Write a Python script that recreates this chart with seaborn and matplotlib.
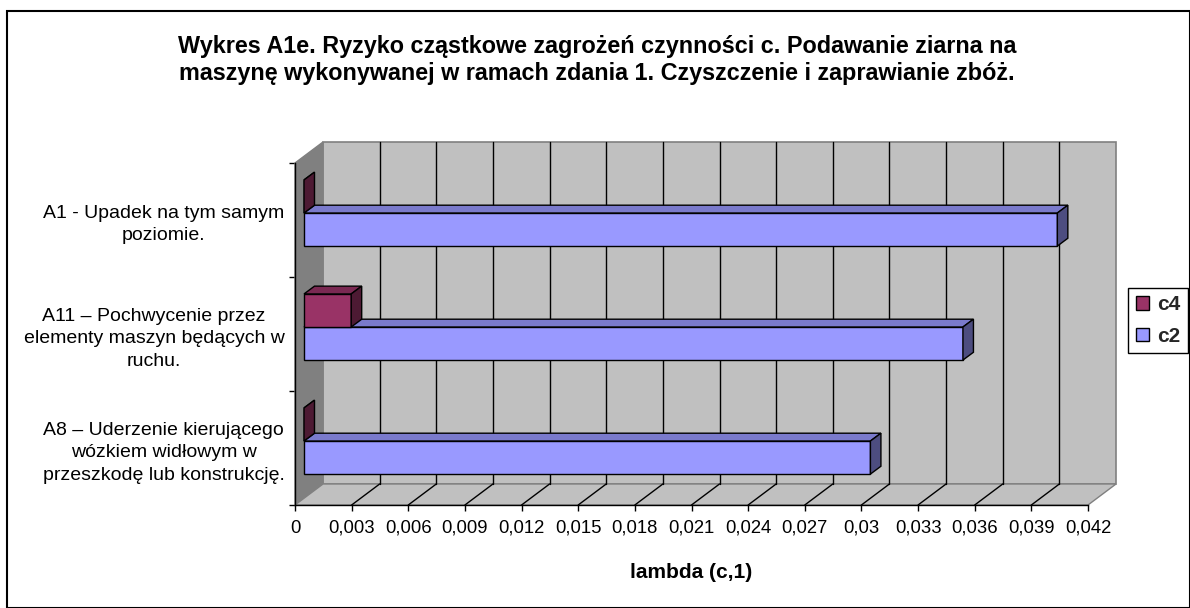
import numpy as np
import pandas as pd
import matplotlib
matplotlib.use("Agg")
import matplotlib.pyplot as plt
import seaborn as sns
from matplotlib.patches import Polygon, Rectangle, Patch
from matplotlib.transforms import IdentityTransform, offset_copy
from matplotlib.lines import Line2D

# ---------------- data ----------------
categories = [
    "A1 - Upadek na tym samym\npoziomie.",
    "A11 – Pochwycenie przez\nelementy maszyn będących w\nruchu.",
    "A8 – Uderzenie kierującego\nwózkiem widłowym w\nprzeszkodę lub konstrukcję.",
]
series_names = ["c4", "c2"]
c4_values = [0.0, 0.0025, 0.0]
c2_values = [0.0399, 0.0349, 0.0300]
x_ticks = [0.0, 0.003, 0.006, 0.009, 0.012, 0.015, 0.018, 0.021,
           0.024, 0.027, 0.030, 0.033, 0.036, 0.039, 0.042]
x_tick_labels = ["0", "0,003", "0,006", "0,009", "0,012", "0,015", "0,018", "0,021",
                 "0,024", "0,027", "0,03", "0,033", "0,036", "0,039", "0,042"]
title_text = ("Wykres A1e. Ryzyko cząstkowe zagrożeń czynności c. Podawanie ziarna na\n"
              "maszynę wykonywanej w ramach zdania 1. Czyszczenie i zaprawianie zbóż.")
x_label = "lambda (c,1)"

front_colors = {"c4": "#993366", "c2": "#9999FF"}
top_colors = {"c4": "#7A2952", "c2": "#7A7ACC"}
side_colors = {"c4": "#4D1A33", "c2": "#4D4D80"}

df = pd.DataFrame({
    "category": categories * 2,
    "value": c4_values + c2_values,
    "series": ["c4"] * 3 + ["c2"] * 3,
})

# ---------------- figure ----------------
sns.set_theme(style="white")
plt.rcParams["font.family"] = ["Liberation Sans", "DejaVu Sans"]

W, H = 1190, 608
fig = plt.figure(figsize=(W / 100, H / 100), dpi=100)
fig.patch.set_facecolor("white")

# front plane of the 3-D box (pixels from the top-left)
fx0, fx1, fy0, fy1 = 295, 1088, 163, 505
ax = fig.add_axes([fx0 / W, 1 - fy1 / H, (fx1 - fx0) / W, (fy1 - fy0) / H])
ax.patch.set_visible(False)

sns.barplot(data=df, y="category", x="value", hue="series", hue_order=series_names,
            order=categories, orient="h", width=0.58, palette=front_colors,
            saturation=1, edgecolor="black", linewidth=1, legend=False, ax=ax)
ax.set_xlim(0, 0.042)
ax.set_ylim(2.5, -0.5)
ax.set_autoscale_on(False)
bar_patches = [p for p in ax.patches if isinstance(p, Rectangle)]

# depth vectors (display pixels, y up)
DEPTH = np.array([28.0, 21.0])
BAR_FRONT = np.array([9.0, 7.0])
BAR_DEPTH = np.array([10.5, 7.8])

def P(xa, ya):
    return np.array(ax.transAxes.transform((xa, ya)))

def add_poly(pts, fc, ec, lw=1.0, z=1):
    poly = Polygon(np.array(pts), closed=True, transform=IdentityTransform(),
                   facecolor=fc, edgecolor=ec, linewidth=lw, zorder=z, clip_on=False)
    ax.add_artist(poly)

def add_line(p0, p1, color, lw=1.0, z=1.5):
    ln = Line2D([p0[0], p1[0]], [p0[1], p1[1]], transform=IdentityTransform(),
                color=color, linewidth=lw, zorder=z, clip_on=False)
    ax.add_artist(ln)

# walls
add_poly([P(0, 0) + DEPTH, P(1, 0) + DEPTH, P(1, 1) + DEPTH, P(0, 1) + DEPTH],
         "#C0C0C0", "#808080", 1.2, 0.5)
add_poly([P(0, 0), P(0, 1), P(0, 1) + DEPTH, P(0, 0) + DEPTH], "#808080", "#808080", 1.0, 0.6)
add_poly([P(0, 0), P(1, 0), P(1, 0) + DEPTH, P(0, 0) + DEPTH], "#C0C0C0", "#808080", 1.0, 0.6)
for t in x_ticks[1:-1]:
    xa = t / 0.042
    add_line(P(xa, 0) + DEPTH, P(xa, 1) + DEPTH, "black", 1.0, 0.8)
    add_line(P(xa, 0), P(xa, 0) + DEPTH, "black", 1.0, 0.8)

# 3-D bars built on the seaborn rectangles
bars = []
for patch in bar_patches:
    x0, y0 = patch.get_x(), patch.get_y()
    w, h = patch.get_width(), patch.get_height()
    c = [np.array(ax.transData.transform((x0 + dx, y0 + dy))) + BAR_FRONT
         for dx, dy in [(0, 0), (w, 0), (w, h), (0, h)]]
    xs = [p[0] for p in c]
    ys = [p[1] for p in c]
    bars.append((patch, min(xs), max(xs), min(ys), max(ys)))

bars.sort(key=lambda b: b[3])  # lower bars first
for i, (patch, xl, xr, yb, yt) in enumerate(bars):
    z = 3 + i
    fc = matplotlib.colors.to_hex(patch.get_facecolor())
    key = "c4" if fc.lower() == front_colors["c4"].lower() else "c2"
    patch.set_transform(offset_copy(ax.transData, fig=fig, x=BAR_FRONT[0], y=BAR_FRONT[1], units="dots"))
    patch.set_zorder(z)
    patch.set_clip_on(False)
    tl, tr, br = np.array([xl, yt]), np.array([xr, yt]), np.array([xr, yb])
    add_poly([tl, tr, tr + BAR_DEPTH, tl + BAR_DEPTH], top_colors[key], "black", 1.0, z)
    add_poly([tr, br, br + BAR_DEPTH, tr + BAR_DEPTH], side_colors[key], "black", 1.0, z)

# axes styling
for s in ["top", "right"]:
    ax.spines[s].set_visible(False)
for s in ["bottom", "left"]:
    ax.spines[s].set_color("black")
    ax.spines[s].set_linewidth(1.0)
    ax.spines[s].set_zorder(10)
ax.set_xticks(x_ticks)
ax.set_xticklabels(x_tick_labels)
ax.tick_params(axis="x", direction="out", length=4, width=1, color="black",
               labelsize=13.3, labelcolor="black", pad=6.5, bottom=True)
ax.set_yticks([0, 1, 2])
ax.set_yticklabels(categories)
ax.set_yticks([-0.5, 0.5, 1.5, 2.5], minor=True)
ax.tick_params(axis="y", which="major", length=0, labelsize=14, labelcolor="black", pad=7.5)
ax.tick_params(axis="y", which="minor", direction="out", length=4, width=1, color="black", left=True)
for lab in ax.get_yticklabels():
    lab.set_multialignment("center")
    lab.set_linespacing(1.42)
ax.set_xlabel("")
ax.set_ylabel("")
ax.grid(False)

# texts
fig.text(597 / W, 1 - 60 / H, title_text, ha="center", va="center", fontsize=16.8,
         fontweight="bold", linespacing=1.22, color="black")
fig.text(((fx0 + fx1) / 2) / W, 1 - 572 / H, x_label, ha="center", va="center", fontsize=15,
         fontweight="bold", color="black")

# legend
handles = [Patch(facecolor=front_colors[s], edgecolor="black", linewidth=1, label=s)
           for s in series_names]
leg = fig.legend(handles=handles, loc="upper right", bbox_to_anchor=(1188 / W, 1 - 288 / H),
                 frameon=True, fancybox=False, edgecolor="black", framealpha=1,
                 prop={"weight": "bold", "size": 15}, handlelength=0.65, handleheight=0.65,
                 handletextpad=0.4, borderpad=0.35, labelspacing=0.6, borderaxespad=0)
leg.get_frame().set_linewidth(1.0)

# outer frame
fig.patches.append(Rectangle((7 / W, 1 - 607.5 / H), (1189.5 - 7) / W, (607.5 - 11) / H,
                             transform=fig.transFigure, fill=False, edgecolor="black",
                             linewidth=1.5, zorder=-1))

fig.savefig("out.png", dpi=100, facecolor="white")
